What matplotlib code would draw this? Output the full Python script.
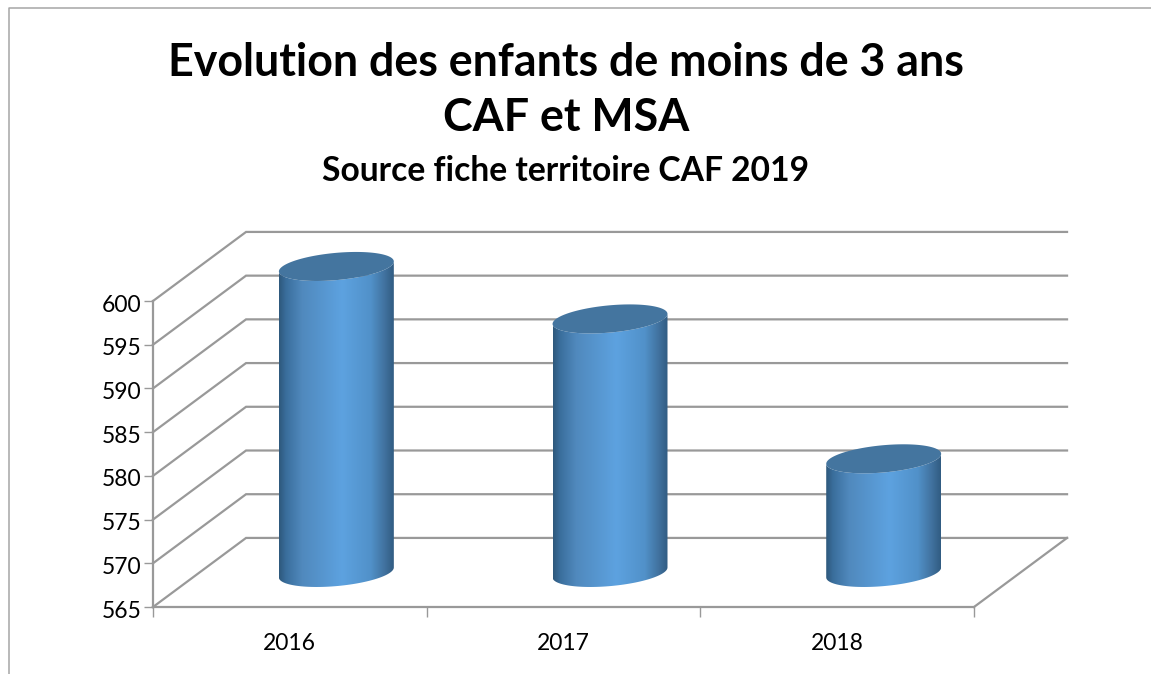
import numpy as np
import matplotlib
matplotlib.use('Agg')
import matplotlib.pyplot as plt
from matplotlib.colors import LinearSegmentedColormap
from matplotlib.lines import Line2D
from matplotlib.patches import PathPatch
from matplotlib.path import Path
from matplotlib.transforms import ScaledTranslation

years = ['2016', '2017', '2018']
children = [600, 594, 578]
y_ticks = [565, 570, 575, 580, 585, 590, 595, 600]

title = 'Evolution des enfants de moins de 3 ans\nCAF et MSA'
subtitle = 'Source fiche territoire CAF 2019'

W, H = 1151, 674
GREY = '#999999'

# 3d look: the back wall is the front plane shifted by this much (data units)
depth_x = 0.34
depth_y = 7.9
bar_w = 0.42
ell_b = 1.56
ell_tilt = 0.57

bar_cmap = LinearSegmentedColormap.from_list('cyl', [
    (0.0, '#2e587c'), (0.06, '#3a6e9c'), (0.2, '#5089bd'), (0.55, '#5da2e0'),
    (0.8, '#5191c9'), (0.92, '#41729f'), (1.0, '#315c82')])
top_color = '#44759f'


def ellipse_xy(cx, cy, t):
    return cx + bar_w / 2 * np.cos(t), cy + ell_b * np.sin(t) + ell_tilt * np.cos(t)


def draw_cylinder(ax, cx, y0, y1):
    t_low = np.linspace(np.pi, 2 * np.pi, 60)
    t_up = np.linspace(0, 2 * np.pi, 120)
    xb, yb = ellipse_xy(cx, y0, t_low)
    xt, yt = ellipse_xy(cx, y1, t_low[::-1])
    verts = np.column_stack([np.r_[xb, xt], np.r_[yb, yt]])
    body = PathPatch(Path(verts), transform=ax.transData, fc='none', ec='none')
    ax.add_patch(body)
    im = ax.imshow(np.linspace(0, 1, 256)[None, :], cmap=bar_cmap, aspect='auto',
                   extent=[cx - bar_w / 2, cx + bar_w / 2, y0 - 3, y1 + 3], zorder=3)
    im.set_clip_box(fig.bbox)  # the 3d tops stick out of the axes box
    im.set_clip_path(body)
    xe, ye = ellipse_xy(cx, y1, t_up)
    ax.fill(xe, ye, color=top_color, zorder=4, clip_on=False, lw=0)


fig = plt.figure(figsize=(W / 100, H / 100), dpi=100)
plt.rcParams['font.family'] = ['Lato', 'DejaVu Sans']
ax = fig.add_axes([153 / W, (H - 607) / H, 821 / W, 306 / H])
n = len(years)
ax.set_xlim(0, n)
ax.set_ylim(y_ticks[0], y_ticks[-1])

# walls and floor
for v in y_ticks:
    ax.plot([0, depth_x, n + depth_x], [v, v + depth_y, v + depth_y],
            color=GREY, lw=1.6, zorder=1, clip_on=False, solid_joinstyle='miter')
ax.plot([n, n + depth_x], [y_ticks[0], y_ticks[0] + depth_y], color=GREY, lw=1.6,
        zorder=1, clip_on=False)

for i, v in enumerate(children):
    draw_cylinder(ax, i + 0.5 + depth_x / 2, y_ticks[0] + depth_y / 2, v + depth_y / 2)

ax.set_xlim(0, n)
ax.set_ylim(y_ticks[0], y_ticks[-1])
ax.patch.set_alpha(0)
for side in ['top', 'right']:
    ax.spines[side].set_visible(False)
for side in ['left', 'bottom']:
    ax.spines[side].set_color(GREY)
    ax.spines[side].set_linewidth(1.6)
ax.set_yticks(y_ticks)
ax.set_xticks(range(n + 1))
ax.set_xticklabels([])
ax.set_xticks(np.arange(n) + 0.5, labels=years, minor=True)
ax.tick_params(axis='x', which='major', length=7, width=1, color=GREY)
ax.tick_params(axis='x', which='minor', length=0, pad=18.5, labelsize=16.5)
ax.tick_params(axis='y', length=6.5, width=1, color=GREY, pad=2, labelsize=16.5)
# nudge the value labels down a little
for lab in ax.get_yticklabels():
    lab.set_transform(lab.get_transform() + ScaledTranslation(0, -2 / 100, fig.dpi_scale_trans))

fig.text(566 / W, 1 - 90.5 / H, title, ha='center', va='center', fontsize=32.2,
         fontweight='bold', linespacing=1.41)
fig.text(566 / W, 1 - 171 / H, subtitle, ha='center', va='center', fontsize=24.2,
         fontweight='bold')

# chart frame, cropped on the right and at the bottom
fig.add_artist(Line2D([9 / W, 9 / W, 1], [0, 1 - 8 / H, 1 - 8 / H], color='#a6a6a6', lw=1.1))

fig.savefig('out.png', dpi=100)
